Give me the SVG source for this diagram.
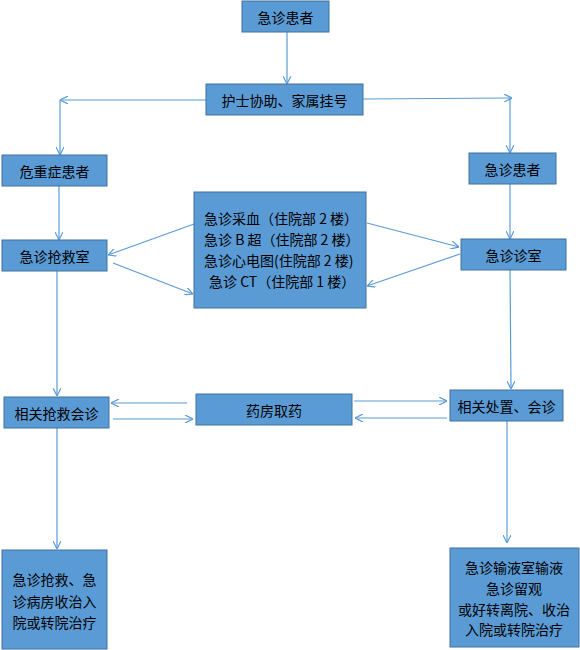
<svg xmlns="http://www.w3.org/2000/svg" width="580" height="650" viewBox="0 0 580 650">
<style>
.box{fill:#5B9BD5;stroke:#41719C;stroke-width:1}
.t{font-family:"Noto Sans CJK SC","Liberation Sans",sans-serif;font-size:14px;fill:#000;text-anchor:middle;dominant-baseline:central}
.tl{font-family:"Noto Sans CJK SC","Liberation Sans",sans-serif;font-size:14px;fill:#000;dominant-baseline:central}
.c{stroke:#5B9BD5;stroke-width:1.2;fill:none}
</style>
<defs>
<marker id="ah" viewBox="0 0 8 8" markerWidth="8" markerHeight="8" refX="8" refY="4" orient="auto" markerUnits="userSpaceOnUse">
<path d="M0,0 L8,4 L0,8" fill="none" stroke="#5B9BD5" stroke-width="1.2"/>
</marker>
</defs>
<rect width="580" height="650" fill="#fff"/>
<g id="connectors">
<line class="c" x1="287" y1="32" x2="287" y2="84" marker-end="url(#ah)"/>
<line class="c" x1="206" y1="100" x2="60" y2="100" marker-end="url(#ah)"/>
<line class="c" x1="60" y1="100" x2="60" y2="155" marker-end="url(#ah)"/>
<line class="c" x1="363" y1="99" x2="512" y2="98" marker-end="url(#ah)"/>
<line class="c" x1="510" y1="98" x2="510" y2="153" marker-end="url(#ah)"/>
<line class="c" x1="59" y1="186" x2="59" y2="240" marker-end="url(#ah)"/>
<line class="c" x1="510" y1="184" x2="510" y2="239" marker-end="url(#ah)"/>
<line class="c" x1="194" y1="224" x2="108" y2="255" marker-end="url(#ah)"/>
<line class="c" x1="113" y1="263" x2="193" y2="294" marker-end="url(#ah)"/>
<line class="c" x1="367" y1="223" x2="459" y2="247" marker-end="url(#ah)"/>
<line class="c" x1="460" y1="254" x2="367" y2="286" marker-end="url(#ah)"/>
<line class="c" x1="57" y1="271" x2="57" y2="396" marker-end="url(#ah)"/>
<line class="c" x1="510" y1="270" x2="511" y2="389" marker-end="url(#ah)"/>
<line class="c" x1="187" y1="403" x2="111" y2="403" marker-end="url(#ah)"/>
<line class="c" x1="113" y1="419" x2="193" y2="419" marker-end="url(#ah)"/>
<line class="c" x1="354" y1="401" x2="447" y2="401" marker-end="url(#ah)"/>
<line class="c" x1="447" y1="418" x2="355" y2="418" marker-end="url(#ah)"/>
<line class="c" x1="57" y1="428" x2="57" y2="549" marker-end="url(#ah)"/>
<line class="c" x1="507" y1="421" x2="507" y2="543" marker-end="url(#ah)"/>
</g>
<g id="n1"><rect class="box" x="242" y="1" width="87" height="31"/><text class="t" x="285.5" y="16.5">急诊患者</text></g>
<g id="n2"><rect class="box" x="206" y="84" width="157" height="31"/><text class="t" x="284.5" y="99.5">护士协助、家属挂号</text></g>
<g id="n3"><rect class="box" x="2" y="155" width="105" height="31"/><text class="t" x="54.5" y="170.5">危重症患者</text></g>
<g id="n4"><rect class="box" x="469" y="153" width="87" height="31"/><text class="t" x="512.5" y="168.5">急诊患者</text></g>
<g id="n5"><rect class="box" x="2" y="240" width="105" height="31"/><text class="t" x="54.5" y="255.5">急诊抢救室</text></g>
<g id="n6"><rect class="box" x="194" y="192" width="172" height="116"/>
<text class="tl" x="204" y="218">急诊采血（住院部 2 楼）</text>
<text class="tl" x="204" y="239">急诊 B 超（住院部 2 楼）</text>
<text class="tl" x="204" y="260">急诊心电图(住院部 2 楼)</text>
<text class="tl" x="209" y="281">急诊 CT（住院部 1 楼）</text></g>
<g id="n7"><rect class="box" x="461" y="239" width="105" height="31"/><text class="t" x="513.5" y="254.5">急诊诊室</text></g>
<g id="n8"><rect class="box" x="4" y="397" width="105" height="31"/><text class="t" x="56.5" y="412.5">相关抢救会诊</text></g>
<g id="n9"><rect class="box" x="196" y="394" width="156" height="31"/><text class="t" x="274" y="409.5">药房取药</text></g>
<g id="n10"><rect class="box" x="450" y="390" width="113" height="31"/><text class="t" x="506.5" y="405.5">相关处置、会诊</text></g>
<g id="n11"><rect class="box" x="2" y="550" width="105" height="99"/>
<text class="t" x="54.5" y="579">急诊抢救、急</text>
<text class="t" x="54.5" y="601">诊病房收治入</text>
<text class="t" x="54.5" y="622">院或转院治疗</text></g>
<g id="n12"><rect class="box" x="450" y="548" width="129" height="99"/>
<text class="t" x="514" y="567">急诊输液室输液</text>
<text class="t" x="514" y="588">急诊留观</text>
<text class="t" x="514" y="609">或好转离院、收治</text>
<text class="t" x="514" y="629">入院或转院治疗</text></g>
</svg>
